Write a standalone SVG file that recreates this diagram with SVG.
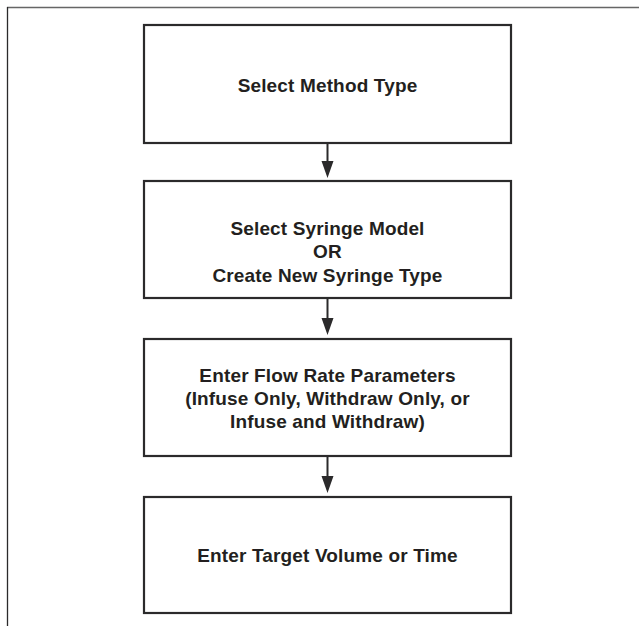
<svg xmlns="http://www.w3.org/2000/svg" width="639" height="626" viewBox="0 0 639 626">
<style>
.box{fill:#fff;stroke:#2b2a2b;stroke-width:2.2}
.t{font-family:"Liberation Sans",Arial,sans-serif;font-weight:bold;font-size:19px;letter-spacing:0.15px;fill:#231f20;text-anchor:middle}
.c{stroke:#2b2a2b;stroke-width:2;fill:none}
.ah{fill:#2b2a2b}
</style>
<rect width="639" height="626" fill="#fff"/>
<g id="frame">
<line x1="7" y1="7.5" x2="639" y2="7.5" stroke="#666" stroke-width="1.6"/>
<line x1="7.5" y1="7" x2="7.5" y2="626" stroke="#2b2a2b" stroke-width="1.3"/>
</g>
<g id="connectors">
<line class="c" x1="327.5" y1="143" x2="327.5" y2="162"/>
<line class="c" x1="327.5" y1="298" x2="327.5" y2="319"/>
<line class="c" x1="327.5" y1="456" x2="327.5" y2="477"/>
<path class="ah" d="M321.5,161 L333.5,161 L327.5,178 Z"/>
<path class="ah" d="M321.5,318 L333.5,318 L327.5,335 Z"/>
<path class="ah" d="M321.5,476 L333.5,476 L327.5,493 Z"/>
</g>
<g id="node1">
<rect class="box" x="144" y="25" width="367" height="118"/>
<text class="t" x="327.5" y="92">Select Method Type</text>
</g>
<g id="node2">
<rect class="box" x="144" y="181" width="367" height="117"/>
<text class="t" x="327.5" y="235">Select Syringe Model</text>
<text class="t" x="327.5" y="258">OR</text>
<text class="t" x="327.5" y="281.5">Create New Syringe Type</text>
</g>
<g id="node3">
<rect class="box" x="144" y="339" width="367" height="117"/>
<text class="t" x="327.5" y="381.5">Enter Flow Rate Parameters</text>
<text class="t" x="327.5" y="404.5">(Infuse Only, Withdraw Only, or</text>
<text class="t" x="327.5" y="428">Infuse and Withdraw)</text>
</g>
<g id="node4">
<rect class="box" x="144" y="497" width="367" height="116"/>
<text class="t" x="327.5" y="561.5">Enter Target Volume or Time</text>
</g>
</svg>
